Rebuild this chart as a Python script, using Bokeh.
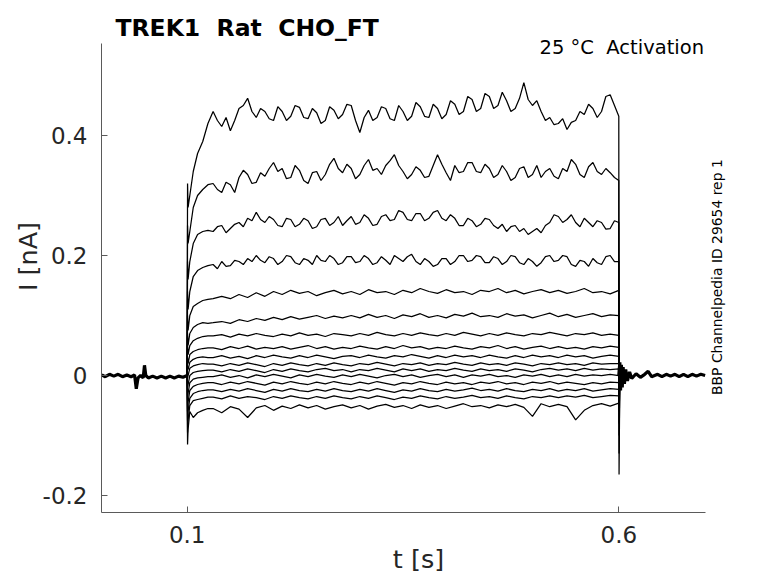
from bokeh.plotting import figure
from bokeh.models import Range1d, FixedTicker, Label
from bokeh.embed import file_html
from bokeh.resources import INLINE
import math

TITLE = "TREK1 \u00a0Rat \u00a0CHO_FT"
CONDITION = "25 °C \u00a0Activation"
SIDE_NOTE = "BBP Channelpedia ID 29654 rep 1"
X_LABEL = "t [s]"
Y_LABEL = "I [nA]"
X_TICKS = [0.1, 0.6]
X_TICK_LABELS = ["0.1", "0.6"]
Y_TICKS = [-0.2, 0.0, 0.2, 0.4]
Y_TICK_LABELS = ["-0.2", "0", "0.2", "0.4"]
X_AXIS_SPAN = (0.0007, 0.7)
Y_AXIS_SPAN = (-0.2283, 0.5533)

# holding segment before the step (all sweeps overlap)
PRE_T = [0.001, 0.005, 0.01, 0.015, 0.02, 0.025, 0.03, 0.035, 0.039, 0.041, 0.043, 0.046,
         0.049, 0.0505, 0.052, 0.055, 0.06, 0.065, 0.07, 0.075, 0.08, 0.085, 0.09, 0.095, 0.1]
PRE_I = [0.001, -0.002, 0.002, -0.001, 0.002, -0.002, 0.001, -0.002, 0.001, -0.022, -0.004, 0.0,
         -0.004, 0.017, 0.0, -0.004, -0.001, -0.004, -0.001, -0.004, -0.001, -0.004, -0.001, -0.003, 0.0]

# tail after the step (all sweeps overlap)
POST_T = [0.6, 0.6012, 0.602, 0.603, 0.604, 0.605, 0.6065, 0.608, 0.61, 0.6125, 0.615, 0.62,
          0.625, 0.63, 0.634, 0.638, 0.645, 0.65, 0.655, 0.66, 0.665, 0.67, 0.675, 0.68,
          0.685, 0.69, 0.695, 0.7]
POST_I = [0.0, 0.022, -0.025, 0.018, -0.02, 0.014, -0.014, 0.01, -0.009, 0.006, -0.005, 0.003,
          -0.003, 0.002, 0.007, -0.002, 0.002, -0.002, 0.002, -0.001, 0.002, -0.002, 0.002, -0.002,
          0.002, -0.001, 0.002, 0.0]

# sample times of each sweep during the step: onset, plateau, end transient
ONSET_T = [0.0999, 0.1004, 0.101, 0.103, 0.107, 0.112, 0.118, 0.124]
END_T = [0.6003, 0.6012]
STEP_T_FINE = [0.130, 0.135, 0.140, 0.145, 0.150, 0.155, 0.160, 0.165, 0.170, 0.175,
               0.180, 0.185, 0.190, 0.195, 0.200, 0.205, 0.210, 0.215, 0.220, 0.225,
               0.230, 0.235, 0.240, 0.245, 0.250, 0.255, 0.260, 0.265, 0.270, 0.275,
               0.280, 0.285, 0.290, 0.295, 0.300, 0.305, 0.310, 0.315, 0.320, 0.325,
               0.330, 0.335, 0.340, 0.345, 0.350, 0.355, 0.360, 0.365, 0.370, 0.375,
               0.380, 0.385, 0.390, 0.395, 0.400, 0.405, 0.410, 0.415, 0.420, 0.425,
               0.430, 0.435, 0.440, 0.445, 0.450, 0.455, 0.460, 0.465, 0.470, 0.475,
               0.480, 0.485, 0.490, 0.495, 0.500, 0.505, 0.510, 0.515, 0.520, 0.525,
               0.530, 0.535, 0.540, 0.545, 0.550, 0.555, 0.560, 0.565, 0.570, 0.575,
               0.580, 0.585, 0.590, 0.595, 0.600]
STEP_T = [0.13, 0.14, 0.15, 0.16, 0.17, 0.18, 0.19, 0.20,
          0.21, 0.22, 0.23, 0.24, 0.25, 0.26, 0.27, 0.28,
          0.29, 0.30, 0.31, 0.32, 0.33, 0.34, 0.35, 0.36,
          0.37, 0.38, 0.39, 0.40, 0.41, 0.42, 0.43, 0.44,
          0.45, 0.46, 0.47, 0.48, 0.49, 0.50, 0.51, 0.52,
          0.53, 0.54, 0.55, 0.56, 0.57, 0.58, 0.59, 0.60]
TRACE_T_FINE = ONSET_T + STEP_T_FINE + END_T
TRACE_T = ONSET_T + STEP_T + END_T

# four largest sweeps, sampled every 5 ms
TRACE_01 = [0, 0.32, 0.28, 0.30, 0.34, 0.37, 0.39, 0.42,
            0.44, 0.425, 0.415, 0.43, 0.408, 0.425, 0.445, 0.45, 0.462, 0.44,
            0.43, 0.445, 0.44, 0.428, 0.425, 0.448, 0.44, 0.425, 0.432, 0.45,
            0.447, 0.43, 0.428, 0.445, 0.438, 0.42, 0.425, 0.448, 0.442, 0.428,
            0.435, 0.452, 0.45, 0.425, 0.405, 0.43, 0.442, 0.425, 0.43, 0.448,
            0.445, 0.428, 0.425, 0.45, 0.44, 0.425, 0.432, 0.455, 0.448, 0.432,
            0.43, 0.452, 0.445, 0.428, 0.435, 0.458, 0.452, 0.435, 0.44, 0.465,
            0.46, 0.44, 0.445, 0.47, 0.465, 0.445, 0.45, 0.472, 0.458, 0.44,
            0.445, 0.462, 0.488, 0.46, 0.45, 0.458, 0.44, 0.425, 0.43, 0.418,
            0.42, 0.428, 0.41, 0.422, 0.425, 0.44, 0.435, 0.452, 0.445, 0.43,
            0.44, 0.465, 0.468, 0.45, 0.432,
            -0.165, 0.0]
TRACE_02 = [0, 0.25, 0.22, 0.24, 0.28, 0.30, 0.31, 0.318,
            0.32, 0.31, 0.305, 0.322, 0.318, 0.305, 0.33, 0.342, 0.335, 0.32,
            0.322, 0.338, 0.332, 0.345, 0.355, 0.34, 0.345, 0.328, 0.33, 0.35,
            0.342, 0.325, 0.32, 0.338, 0.34, 0.325, 0.335, 0.352, 0.362, 0.345,
            0.338, 0.352, 0.345, 0.328, 0.335, 0.35, 0.36, 0.342, 0.345, 0.335,
            0.35, 0.358, 0.368, 0.35, 0.34, 0.328, 0.335, 0.348, 0.342, 0.33,
            0.332, 0.35, 0.368, 0.352, 0.338, 0.325, 0.35, 0.338, 0.34, 0.355,
            0.355, 0.34, 0.338, 0.352, 0.345, 0.33, 0.335, 0.35, 0.34, 0.325,
            0.33, 0.345, 0.348, 0.33, 0.335, 0.35, 0.33, 0.34, 0.345, 0.332,
            0.328, 0.345, 0.34, 0.36, 0.352, 0.335, 0.33, 0.348, 0.355, 0.34,
            0.335, 0.345, 0.338, 0.33, 0.325,
            -0.13, 0.0]
TRACE_03 = [0, 0.19, 0.16, 0.19, 0.22, 0.235, 0.24, 0.242,
            0.24, 0.248, 0.25, 0.238, 0.245, 0.252, 0.255, 0.248, 0.262, 0.258,
            0.272, 0.26, 0.255, 0.265, 0.26, 0.25, 0.248, 0.262, 0.26, 0.248,
            0.252, 0.262, 0.258, 0.245, 0.248, 0.26, 0.262, 0.25, 0.255, 0.265,
            0.25, 0.258, 0.265, 0.252, 0.255, 0.268, 0.262, 0.25, 0.252, 0.265,
            0.268, 0.258, 0.26, 0.275, 0.272, 0.26, 0.258, 0.27, 0.27, 0.258,
            0.262, 0.272, 0.275, 0.262, 0.258, 0.268, 0.262, 0.25, 0.25, 0.262,
            0.258, 0.248, 0.252, 0.262, 0.26, 0.25, 0.245, 0.252, 0.24, 0.248,
            0.25, 0.24, 0.245, 0.235, 0.24, 0.245, 0.238, 0.25, 0.255, 0.268,
            0.265, 0.255, 0.26, 0.268, 0.255, 0.248, 0.262, 0.255, 0.248, 0.258,
            0.255, 0.244, 0.245, 0.258, 0.255,
            -0.10, 0.0]
TRACE_04 = [0, 0.14, 0.11, 0.14, 0.165, 0.175, 0.18, 0.183,
            0.185, 0.178, 0.19, 0.182, 0.183, 0.192, 0.19, 0.185, 0.195, 0.19,
            0.2, 0.192, 0.188, 0.198, 0.195, 0.185, 0.19, 0.2, 0.198, 0.188,
            0.185, 0.195, 0.192, 0.185, 0.2, 0.192, 0.19, 0.2, 0.195, 0.185,
            0.188, 0.198, 0.198, 0.188, 0.19, 0.2, 0.195, 0.185, 0.188, 0.198,
            0.192, 0.185, 0.2, 0.195, 0.19, 0.198, 0.202, 0.19, 0.185, 0.195,
            0.19, 0.182, 0.185, 0.195, 0.195, 0.185, 0.19, 0.2, 0.2, 0.19,
            0.192, 0.2, 0.198, 0.188, 0.188, 0.198, 0.195, 0.185, 0.19, 0.2,
            0.198, 0.188, 0.185, 0.195, 0.19, 0.182, 0.188, 0.198, 0.2, 0.19,
            0.192, 0.2, 0.198, 0.185, 0.182, 0.192, 0.19, 0.182, 0.195, 0.188,
            0.185, 0.198, 0.2, 0.19, 0.19,
            -0.08, 0.0]

# smaller sweeps, sampled every 10 ms
TRACE_05 = [0, 0.10, 0.075, 0.10, 0.115, 0.12, 0.125, 0.127,
            0.128, 0.132, 0.128, 0.135, 0.13, 0.138, 0.132, 0.14,
            0.135, 0.142, 0.137, 0.14, 0.133, 0.138, 0.142, 0.136,
            0.14, 0.135, 0.143, 0.138, 0.14, 0.135, 0.142, 0.138,
            0.145, 0.14, 0.137, 0.143, 0.138, 0.14, 0.135, 0.142,
            0.14, 0.145, 0.138, 0.142, 0.136, 0.14, 0.143, 0.138,
            0.142, 0.137, 0.14, 0.145, 0.138, 0.14, 0.136, 0.142,
            -0.06, 0.0]
TRACE_06 = [0, 0.07, 0.05, 0.07, 0.08, 0.085, 0.088, 0.087,
            0.088, 0.09, 0.087, 0.093, 0.09, 0.095, 0.092, 0.097,
            0.093, 0.098, 0.094, 0.097, 0.1, 0.095, 0.099, 0.096,
            0.1, 0.096, 0.102, 0.097, 0.1, 0.095, 0.101, 0.098,
            0.103, 0.097, 0.1, 0.096, 0.102, 0.099, 0.104, 0.098,
            0.1, 0.097, 0.103, 0.099, 0.101, 0.096, 0.1, 0.104,
            0.098, 0.102, 0.097, 0.1, 0.103, 0.098, 0.101, 0.1,
            -0.045, 0.0]
TRACE_07 = [0, 0.05, 0.035, 0.05, 0.058, 0.062, 0.065, 0.066,
            0.066, 0.068, 0.064, 0.069, 0.066, 0.07, 0.067, 0.065,
            0.069, 0.066, 0.071, 0.067, 0.069, 0.065, 0.07, 0.068,
            0.066, 0.07, 0.067, 0.072, 0.068, 0.066, 0.07, 0.067,
            0.071, 0.068, 0.066, 0.07, 0.067, 0.072, 0.069, 0.066,
            0.07, 0.067, 0.071, 0.068, 0.066, 0.07, 0.068, 0.072,
            0.069, 0.066, 0.07, 0.068, 0.071, 0.067, 0.069, 0.067,
            -0.035, 0.0]
TRACE_08 = [0, 0.03, 0.02, 0.035, 0.04, 0.043, 0.045, 0.046,
            0.046, 0.043, 0.048, 0.045, 0.049, 0.044, 0.047, 0.045,
            0.048, 0.044, 0.047, 0.05, 0.045, 0.048, 0.044, 0.047,
            0.045, 0.049, 0.046, 0.044, 0.048, 0.045, 0.05, 0.046,
            0.048, 0.044, 0.047, 0.045, 0.049, 0.046, 0.044, 0.048,
            0.046, 0.05, 0.045, 0.048, 0.044, 0.047, 0.049, 0.045,
            0.048, 0.045, 0.047, 0.044, 0.048, 0.046, 0.049, 0.047,
            -0.025, 0.0]
TRACE_09 = [0, 0.015, 0.01, 0.022, 0.027, 0.03, 0.031, 0.03,
            0.03, 0.033, 0.029, 0.032, 0.028, 0.033, 0.03, 0.034,
            0.031, 0.029, 0.033, 0.03, 0.034, 0.031, 0.028, 0.032,
            0.033, 0.03, 0.034, 0.031, 0.029, 0.033, 0.031, 0.035,
            0.032, 0.029, 0.033, 0.03, 0.034, 0.031, 0.033, 0.03,
            0.034, 0.031, 0.029, 0.033, 0.03, 0.034, 0.031, 0.033,
            0.03, 0.034, 0.031, 0.033, 0.029, 0.032, 0.034, 0.032,
            -0.018, 0.0]
TRACE_10 = [0, -0.005, 0.0, 0.012, 0.016, 0.018, 0.02, 0.019,
            0.019, 0.016, 0.02, 0.017, 0.021, 0.018, 0.015, 0.02,
            0.017, 0.021, 0.018, 0.016, 0.02, 0.017, 0.021, 0.018,
            0.016, 0.02, 0.018, 0.022, 0.019, 0.016, 0.02, 0.018,
            0.021, 0.017, 0.02, 0.018, 0.022, 0.019, 0.017, 0.021,
            0.018, 0.02, 0.017, 0.021, 0.019, 0.016, 0.02, 0.018,
            0.021, 0.018, 0.02, 0.017, 0.021, 0.019, 0.02, 0.02,
            -0.01, 0.0]
TRACE_11 = [0, -0.02, -0.015, 0.0, 0.005, 0.007, 0.008, 0.009,
            0.009, 0.006, 0.01, 0.007, 0.011, 0.008, 0.005, 0.01,
            0.007, 0.011, 0.008, 0.006, 0.01, 0.012, 0.008, 0.01,
            0.006, 0.01, 0.008, 0.012, 0.009, 0.006, 0.011, 0.008,
            0.011, 0.007, 0.01, 0.008, 0.012, 0.009, 0.007, 0.011,
            0.008, 0.01, 0.007, 0.011, 0.009, 0.006, 0.01, 0.012,
            0.009, 0.011, 0.008, 0.012, 0.009, 0.011, 0.01, 0.011,
            -0.004, 0.0]
TRACE_12 = [0, -0.04, -0.03, -0.012, -0.006, -0.004, -0.003, -0.002,
            -0.002, 0.001, -0.003, 0.0, -0.004, 0.001, -0.002, 0.002,
            -0.001, -0.004, 0.001, -0.002, 0.002, -0.001, -0.003, 0.001,
            -0.002, 0.002, -0.001, -0.004, 0.0, 0.002, -0.002, 0.001,
            -0.003, 0.0, 0.002, -0.002, 0.001, -0.003, 0.001, -0.001,
            0.002, -0.002, 0.0, -0.003, 0.001, -0.001, 0.002, -0.002,
            0.001, -0.002, 0.002, -0.001, 0.001, 0.0, 0.002, 0.0,
            0.002, 0.0]
TRACE_13 = [0, -0.06, -0.045, -0.025, -0.018, -0.015, -0.013, -0.012,
            -0.012, -0.015, -0.011, -0.014, -0.01, -0.013, -0.016, -0.011,
            -0.014, -0.01, -0.013, -0.015, -0.011, -0.014, -0.01, -0.013,
            -0.015, -0.011, -0.014, -0.01, -0.013, -0.016, -0.012, -0.014,
            -0.01, -0.013, -0.015, -0.011, -0.014, -0.012, -0.015, -0.011,
            -0.013, -0.01, -0.014, -0.012, -0.015, -0.011, -0.013, -0.01,
            -0.014, -0.011, -0.013, -0.015, -0.012, -0.014, -0.011, -0.012,
            0.008, 0.0]
TRACE_14 = [0, -0.075, -0.06, -0.038, -0.03, -0.027, -0.025, -0.024,
            -0.024, -0.027, -0.023, -0.026, -0.022, -0.025, -0.028, -0.023,
            -0.026, -0.022, -0.025, -0.027, -0.023, -0.026, -0.022, -0.025,
            -0.027, -0.023, -0.026, -0.022, -0.025, -0.028, -0.024, -0.026,
            -0.022, -0.025, -0.027, -0.023, -0.026, -0.024, -0.021, -0.025,
            -0.023, -0.026, -0.022, -0.025, -0.027, -0.023, -0.025, -0.022,
            -0.026, -0.023, -0.025, -0.022, -0.026, -0.024, -0.022, -0.023,
            0.014, 0.0]
TRACE_15 = [0, -0.095, -0.075, -0.05, -0.042, -0.04, -0.038, -0.036,
            -0.036, -0.039, -0.034, -0.038, -0.035, -0.037, -0.04, -0.035,
            -0.038, -0.034, -0.037, -0.039, -0.035, -0.038, -0.034, -0.037,
            -0.039, -0.035, -0.038, -0.034, -0.037, -0.04, -0.036, -0.038,
            -0.034, -0.037, -0.039, -0.035, -0.038, -0.036, -0.033, -0.037,
            -0.035, -0.038, -0.034, -0.037, -0.039, -0.035, -0.037, -0.034,
            -0.037, -0.034, -0.036, -0.033, -0.037, -0.035, -0.033, -0.034,
            0.02, 0.0]
TRACE_16 = [0, -0.115, -0.09, -0.06, -0.07, -0.062, -0.058, -0.055,
            -0.055, -0.062, -0.052, -0.056, -0.07, -0.054, -0.05, -0.058,
            -0.051, -0.055, -0.049, -0.054, -0.05, -0.056, -0.052, -0.049,
            -0.054, -0.05, -0.056, -0.051, -0.048, -0.053, -0.05, -0.055,
            -0.049, -0.053, -0.05, -0.055, -0.051, -0.047, -0.052, -0.05,
            -0.054, -0.049, -0.052, -0.048, -0.053, -0.068, -0.047, -0.052,
            -0.048, -0.052, -0.074, -0.058, -0.05, -0.047, -0.051, -0.046,
            0.03, 0.0]

FINE_TRACES = [TRACE_01, TRACE_02, TRACE_03, TRACE_04]
COARSE_TRACES = [TRACE_05, TRACE_06, TRACE_07, TRACE_08, TRACE_09, TRACE_10,
                 TRACE_11, TRACE_12, TRACE_13, TRACE_14, TRACE_15, TRACE_16]

FONT = "DejaVu Sans"
INK = "#262626"
AXIS_GREY = "#5a5a5a"

# frame reaches up to the top edge and a little right of the x axis end,
# so that the in-plot labels are not clipped; axis lines stop at the axis spans
p = figure(width=778, height=583, output_backend="svg", toolbar_location=None, title=None,
           x_range=Range1d(0.0007, 0.7352), y_range=Range1d(-0.2283, 0.625),
           min_border_left=101, min_border_right=43, min_border_top=0, min_border_bottom=71)
p.outline_line_color = None
p.xgrid.grid_line_color = None
p.ygrid.grid_line_color = None
p.background_fill_color = "white"
p.border_fill_color = "white"

p.line(PRE_T, PRE_I, line_color="black", line_width=3.2)
p.line(POST_T, POST_I, line_color="black", line_width=3.2)
for tr in FINE_TRACES:
    n = min(len(TRACE_T_FINE), len(tr))
    p.line(TRACE_T_FINE[:n], tr[:n], line_color="black", line_width=1.25)
for tr in COARSE_TRACES:
    n = min(len(TRACE_T), len(tr))
    p.line(TRACE_T[:n], tr[:n], line_color="black", line_width=1.25)

for ax, ticks, labels, span in ((p.xaxis[0], X_TICKS, X_TICK_LABELS, X_AXIS_SPAN),
                                (p.yaxis[0], Y_TICKS, Y_TICK_LABELS, Y_AXIS_SPAN)):
    ax.ticker = FixedTicker(ticks=ticks)
    ax.major_label_overrides = {t: l for t, l in zip(ticks, labels)}
    ax.bounds = span
    ax.minor_tick_line_color = None
    ax.major_tick_in = 6
    ax.major_tick_out = 0
    ax.axis_line_color = AXIS_GREY
    ax.major_tick_line_color = AXIS_GREY
    ax.axis_line_width = 1
    ax.major_label_text_font = FONT
    ax.major_label_text_font_size = "23px"
    ax.major_label_text_color = INK
    ax.axis_label_text_font = FONT
    ax.axis_label_text_font_size = "25.5px"
    ax.axis_label_text_font_style = "normal"
    ax.axis_label_text_color = INK

p.xaxis[0].axis_label = X_LABEL
p.yaxis[0].axis_label = Y_LABEL
p.xaxis[0].major_label_standoff = 13
p.xaxis[0].axis_label_standoff = -2
p.yaxis[0].major_label_standoff = 14
p.yaxis[0].axis_label_standoff = -3

p.add_layout(Label(x=0.0169, y=0.58, text=TITLE,
                   text_font=FONT, text_font_size="23.5px", text_font_style="bold",
                   text_color="black", text_align="left", text_baseline="alphabetic"))
p.add_layout(Label(x=0.6987, y=0.5467, text=CONDITION,
                   text_font=FONT, text_font_size="19.5px", text_color="black",
                   text_align="right", text_baseline="alphabetic"))
p.add_layout(Label(x=0.7139, y=0.164, text=SIDE_NOTE,
                   text_font=FONT, text_font_size="13.9px", text_color="black", angle=math.pi / 2,
                   text_align="center", text_baseline="middle"))

open("out.html", "w").write(file_html(p, INLINE))
